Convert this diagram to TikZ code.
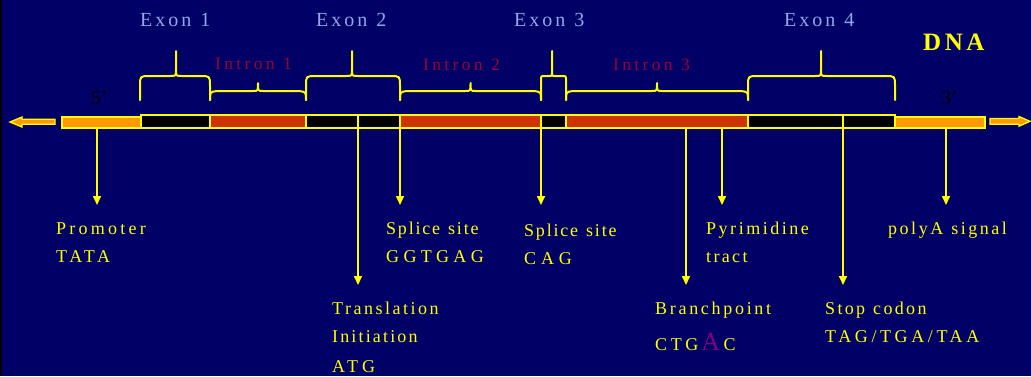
\documentclass[tikz,border=0pt]{standalone}
\usepackage{fontspec}
\setmainfont{Liberation Serif}
\usetikzlibrary{arrows.meta}
\definecolor{bg}{HTML}{000066}
\definecolor{dyel}{HTML}{FFFF00}
\definecolor{lorange}{HTML}{FF9900}
\definecolor{rorange}{HTML}{CC3300}
\definecolor{exonblue}{HTML}{8FA8E8}
\definecolor{intronred}{HTML}{990033}
\definecolor{bpurple}{HTML}{800080}
\newcommand\wordsp[1]{\spaceskip=#1\relax}
\newcommand\ebrace[5]{% x1, xm, x2, r, s
  \draw[brace] (#1,100) -- (#1,76+#4) .. controls (#1,76) .. (#1+#4,76) -- (#2-#5,76)
    .. controls (#2,76) .. (#2,76-#5) -- (#2,51)
    (#2,76-#5) .. controls (#2,76) .. (#2+#5,76) -- (#3-#4,76)
    .. controls (#3,76) .. (#3,76+#4) -- (#3,100);}
\newcommand\ibrace[3]{% x1, xm, x2
  \draw[brace] (#1,100) .. controls (#1,92) .. (#1+7,91) -- (#2-5,91)
    .. controls (#2,91) .. (#2,83) .. controls (#2,91) .. (#2+5,91) -- (#3-7,91)
    .. controls (#3,92) .. (#3,100);}
\begin{document}
\begin{tikzpicture}[x=1pt,y=-1pt,
  seg/.style={draw=dyel, line width=1.3pt},
  brace/.style={draw=dyel, line width=2pt, line join=round, line cap=round},
  pointer/.style={draw=dyel, line width=1.6pt, -{Triangle[width=8pt,length=9pt]}, fill=dyel},
  lab/.style={text=dyel, font={\fontsize{18}{22}\selectfont\addfontfeature{LetterSpace=#1}\wordsp{8pt}}, anchor=base west, inner sep=0pt},
  lab/.default=20,
  exonlab/.style={text=exonblue, font={\fontsize{20}{24}\selectfont\addfontfeature{LetterSpace=15}\wordsp{9pt}}, anchor=base west, inner sep=0pt},
  intronlab/.style={text=intronred, font={\fontsize{17.5}{20}\selectfont\addfontfeature{LetterSpace=19}\wordsp{8.5pt}}, anchor=base west, inner sep=0pt},
  endlab/.style={text=black, font={\fontsize{20}{24}\selectfont}, anchor=base west, inner sep=0pt}]
\useasboundingbox (0,0) rectangle (1031,376);
\fill[bg] (0,0) rectangle (1031,376);
\fill[black] (0,0) rectangle (1.5,376);

% end arrows
\draw[seg, fill=lorange, line join=miter] (55,119.3) -- (22,119.3) -- (22,117) -- (10,122) -- (22,127) -- (22,124.3) -- (55,124.3) -- cycle;
\draw[seg, fill=lorange, line join=miter] (990,118.5) -- (1019,118.5) -- (1019,116.5) -- (1030,121.3) -- (1019,126.2) -- (1019,124.2) -- (990,124.2) -- cycle;

% bar segments
\draw[seg, fill=lorange] (62,117) rectangle (141,128);
\draw[seg, fill=black] (141,115) rectangle (210,128);
\draw[seg, fill=rorange] (210,115) rectangle (306,128);
\draw[seg, fill=black] (306,115) rectangle (400,128);
\draw[seg, fill=rorange] (400,115) rectangle (541,128);
\draw[seg, fill=black] (541,115) rectangle (566,128);
\draw[seg, fill=rorange] (566,115) rectangle (748,128);
\draw[seg, fill=black] (748,115) rectangle (895,128);
\draw[seg, fill=lorange] (895,117) rectangle (985,128);
\draw[seg] (358,115) -- (358,128);
\draw[seg] (843,115) -- (843,128);

% braces
\ebrace{140}{176}{210}{10}{6}
\ebrace{306}{352}{400}{10}{6}
\ebrace{541}{552}{566}{3}{2.5}
\ebrace{748}{821}{895}{10}{6}
\ibrace{210}{258}{306}
\ibrace{400}{470.5}{541}
\ibrace{566}{657}{748}

% top labels
\node[exonlab] (ex1) at (140,26) {Exon 1};
\node[exonlab] (ex2) at (316,26) {Exon 2};
\node[exonlab] (ex3) at (514,26) {Exon 3};
\node[exonlab] (ex4) at (784,26) {Exon 4};
\node[intronlab] (in1) at (215,69.5) {Intron 1};
\node[intronlab] (in2) at (423,70) {Intron 2};
\node[intronlab] (in3) at (613,70) {Intron 3};
\node[text=dyel, font={\fontsize{25}{30}\selectfont\bfseries\addfontfeature{LetterSpace=14}}, anchor=base west, inner sep=0pt] (dna) at (923,50) {DNA};
\node[endlab] (five) at (91,104) {5'};
\node[endlab] (three) at (941,104) {3'};

% pointer start and end coordinates
\coordinate (pS) at (97,128);  \coordinate (pE) at (97,205);
\coordinate (tS) at (358,128); \coordinate (tE) at (358,285);
\coordinate (s1S) at (400,128); \coordinate (s1E) at (400,205);
\coordinate (s2S) at (541,128); \coordinate (s2E) at (541,205);
\coordinate (bS) at (686,128); \coordinate (bE) at (686,285);
\coordinate (yS) at (722,128); \coordinate (yE) at (722,205);
\coordinate (sS) at (843,128); \coordinate (sE) at (843,285);
\coordinate (aS) at (946,128); \coordinate (aE) at (946,205);
\foreach \a/\b in {pS/pE,tS/tE,s1S/s1E,s2S/s2E,bS/bE,yS/yE,sS/sE,aS/aE}
  \draw[pointer] (\a) -- (\b);

% bottom labels
\node[lab=18] (prom1) at (56,234) {Promoter};
\node[lab=20] (prom2) at (56,262) {TATA};
\node[lab=14] (tr1) at (332,314) {Translation};
\node[lab=12] (tr2) at (332,342) {Initiation};
\node[lab=22] (tr3) at (332,372) {ATG};
\node[lab=10] (sp1) at (386,234) {Splice site};
\node[lab=24] (sp2) at (386,262) {GGTGAG};
\node[lab=10] (sq1) at (524,236) {Splice site};
\node[lab=27] (sq2) at (524,264) {CAG};
\node[lab=14] (py1) at (706,234) {Pyrimidine};
\node[lab=13] (py2) at (706,262) {tract};
\node[lab=14] (pa1) at (888,234) {polyA signal};
\node[lab=15] (br1) at (655,314) {Branchpoint};
\node[lab=20] (br2) at (655,350) {CTG\hspace{3pt}{\color{bpurple}\fontsize{26}{30}\selectfont A}\hspace{3.5pt}C};
\node[lab=13] (st1) at (825,314) {Stop codon};
\node[lab=20] (st2) at (825,342) {TAG/TGA/TAA};
\end{tikzpicture}
\end{document}
